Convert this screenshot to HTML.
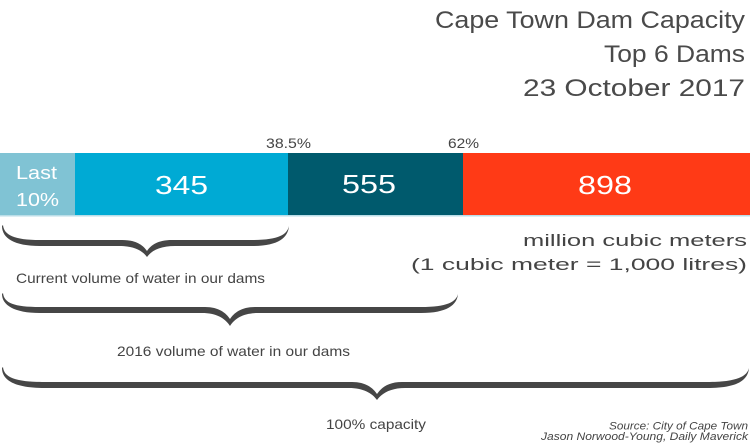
<!DOCTYPE html>
<html>
<head>
<meta charset="utf-8">
<style>
  html, body { margin: 0; padding: 0; background: #ffffff; }
  body { width: 750px; height: 448px; overflow: hidden; }
  svg { display: block; }
  text { font-family: "Liberation Sans", "DejaVu Sans", sans-serif; }
</style>
</head>
<body>
<svg width="750" height="448" viewBox="0 0 750 448" xmlns="http://www.w3.org/2000/svg">
  <rect x="0" y="0" width="750" height="448" fill="#ffffff"/>

  <!-- Bar -->
  <rect x="0" y="153" width="75" height="62" fill="#80c3d4"/>
  <rect x="75" y="153" width="213" height="62" fill="#00aad4"/>
  <rect x="288" y="153" width="175" height="62" fill="#005a6d"/>
  <rect x="463" y="153" width="287" height="62" fill="#ff3a16"/>
  <rect x="0" y="215" width="750" height="1.5" fill="#a9d6e2" opacity="0.8"/>

  <!-- Braces -->
  <path fill="#464646" d="M3,225 C4,235 14,240 40,240 L122,240 C136,240 143,245 147,251 C151,245 158,240 172,240 L252,240 C278,240 287,235 289,226 C288,238 278,246 252,246 L175,246 C161,246 152,250 147,257 C142,250 133,246 119,246 L40,246 C14,246 2,238 2,226 Z"/>
  <path fill="#464646" d="M3,293 C4,303 14,307 40,307 L205,307 C219,307 226,313 230,319 C234,313 241,307 255,307 L421,307 C447,307 456,302 458,294 C457,305 447,313 421,313 L258,313 C244,313 235,318 230,326 C225,318 216,313 202,313 L40,313 C14,313 2,305 2,294 Z"/>
  <path fill="#464646" d="M3,367 C4,377 14,382 45,382 L352,382 C366,382 373,388 377,394 C381,388 388,382 402,382 L707,382 C738,382 747,376 749,368 C748,380 738,388 707,388 L405,388 C391,388 382,393 377,400 C372,393 363,388 349,388 L45,388 C14,388 2,380 2,368 Z"/>

  <g fill="#444444">
    <!-- Title -->
    <text x="435" y="28" font-size="24" fill="#4a4a4a" textLength="310" lengthAdjust="spacingAndGlyphs">Cape Town Dam Capacity</text>
    <text x="604" y="62" font-size="24" fill="#4a4a4a" textLength="141" lengthAdjust="spacingAndGlyphs">Top 6 Dams</text>
    <text x="523" y="96" font-size="24" fill="#4a4a4a" textLength="222" lengthAdjust="spacingAndGlyphs">23 October 2017</text>

    <!-- Percentage markers -->
    <text x="266" y="148" font-size="14" textLength="45" lengthAdjust="spacingAndGlyphs">38.5%</text>
    <text x="448" y="148" font-size="14" textLength="31" lengthAdjust="spacingAndGlyphs">62%</text>

    <!-- Bar labels -->
    <text x="16" y="179" font-size="18" fill="#ffffff" textLength="41" lengthAdjust="spacingAndGlyphs">Last</text>
    <text x="16" y="206" font-size="18" fill="#ffffff" textLength="43" lengthAdjust="spacingAndGlyphs">10%</text>
    <text x="155" y="194" font-size="26" fill="#ffffff" textLength="53" lengthAdjust="spacingAndGlyphs">345</text>
    <text x="342" y="193" font-size="26" fill="#ffffff" textLength="54" lengthAdjust="spacingAndGlyphs">555</text>
    <text x="578" y="194" font-size="26" fill="#ffffff" textLength="54" lengthAdjust="spacingAndGlyphs">898</text>

    <!-- Units -->
    <text x="523" y="246" font-size="17" textLength="224" lengthAdjust="spacingAndGlyphs">million cubic meters</text>
    <text x="411" y="270" font-size="17" textLength="336" lengthAdjust="spacingAndGlyphs">(1 cubic meter = 1,000 litres)</text>

    <!-- Brace labels -->
    <text x="16" y="283" font-size="14" textLength="249" lengthAdjust="spacingAndGlyphs">Current volume of water in our dams</text>
    <text x="117" y="356" font-size="14" textLength="233" lengthAdjust="spacingAndGlyphs">2016 volume of water in our dams</text>
    <text x="326" y="429" font-size="14" textLength="100" lengthAdjust="spacingAndGlyphs">100% capacity</text>

    <!-- Source -->
    <text x="609" y="429.5" font-size="11" font-style="italic" textLength="139" lengthAdjust="spacingAndGlyphs">Source: City of Cape Town</text>
    <text x="541" y="440" font-size="11" font-style="italic" textLength="207" lengthAdjust="spacingAndGlyphs">Jason Norwood-Young, Daily Maverick</text>
  </g>
</svg>
</body>
</html>
